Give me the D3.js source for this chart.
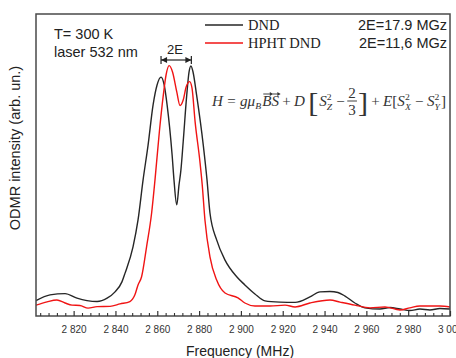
<!DOCTYPE html>
<html>
<head>
<meta charset="utf-8">
<script src="https://cdn.jsdelivr.net/npm/d3@7"></script>
<style>
  html, body { margin: 0; padding: 0; background: #fff; }
  svg { display: block; }
</style>
</head>
<body>
<svg id="chart" width="456" height="358"></svg>
<script>
// ---- Data ----
const dndFreq = [2802.0, 2808.7, 2815.9, 2821.6, 2826.4, 2831.2, 2836.0, 2839.8, 2843.1, 2844.6, 2848.4, 2850.8, 2853.2, 2855.6, 2858.0, 2859.9, 2861.8, 2863.3, 2864.7, 2867.1, 2868.0, 2869.3, 2870.4, 2871.3, 2872.4, 2874.1, 2875.2, 2876.1, 2877.1, 2878.8, 2882.0, 2883.8, 2885.2, 2888.4, 2892.4, 2898.1, 2901.9, 2906.7, 2911.5, 2918.7, 2925.9, 2933.0, 2937.8, 2942.6, 2946.4, 2949.8, 2954.5, 2959.3, 2966.5, 2971.3, 2976.1, 2980.8, 2985.6, 2990.4, 2995.2, 3000.0];
const dndIntensity = [5.1, 7.0, 7.4, 5.9, 5.1, 4.8, 5.9, 8.0, 11.3, 14.2, 22.9, 31.8, 45.0, 56.6, 69.9, 76.5, 79.1, 76.5, 69.9, 53.3, 45.0, 36.8, 43.4, 48.3, 57.7, 73.2, 80.8, 82.8, 80.8, 73.2, 56.6, 45.0, 34.1, 25.2, 18.5, 12.9, 10.3, 7.3, 5.0, 4.6, 4.5, 6.3, 8.0, 8.1, 7.8, 6.6, 4.3, 2.7, 2.3, 2.8, 2.3, 1.8, 2.3, 2.0, 2.5, 2.3];

const hphtFreq = [2802.0, 2807.3, 2812.0, 2815.9, 2819.2, 2823.0, 2826.9, 2831.2, 2837.4, 2842.2, 2846.9, 2849.3, 2850.8, 2852.5, 2854.9, 2857.3, 2858.9, 2861.0, 2862.9, 2864.2, 2865.7, 2867.3, 2869.3, 2870.9, 2872.4, 2873.8, 2875.5, 2876.6, 2878.1, 2880.4, 2881.5, 2882.8, 2885.2, 2888.4, 2892.4, 2898.6, 2901.9, 2906.7, 2913.9, 2921.1, 2925.9, 2933.0, 2942.6, 2947.4, 2954.5, 2961.7, 2968.9, 2976.1, 2980.8, 2985.6, 2995.2, 3000.0];
const hphtIntensity = [3.6, 4.7, 5.3, 4.3, 3.6, 3.5, 2.6, 3.1, 3.2, 4.0, 4.8, 7.0, 10.3, 13.0, 23.0, 34.1, 45.0, 61.0, 73.2, 79.8, 82.9, 80.8, 74.3, 69.7, 71.5, 75.8, 77.6, 75.5, 64.3, 51.1, 43.4, 31.8, 19.6, 11.9, 7.6, 6.0, 4.3, 3.3, 3.3, 3.6, 3.0, 4.3, 5.3, 4.6, 3.6, 2.7, 3.0, 2.0, 2.7, 3.3, 3.3, 3.0];

const seriesNames = ["DND", "HPHT DND"];
const seriesColors = ["#262626", "#f01414"];
const splittings = ["2E=17.9 MGz", "2E=11,6 MGz"];
const majorTicks = [2820, 2840, 2860, 2880, 2900, 2920, 2940, 2960, 2980, 3000];
const tickLabels = ["2 820", "2 840", "2 860", "2 880", "2 900", "2 920", "2 940", "2 960", "2 980", "3 000"];
const minorTicks = d3.range(2804, 3000, 4).filter(v => (v % 20) !== 0);
const xDomain = [2802, 3000];
const yDomain = [0, 100];

// ---- Layout ----
const svg = d3.select("#chart");
const L = 36, R = 450, T = 14, B = 316;

const x = d3.scaleLinear().domain(xDomain).range([L, R]);
const y = d3.scaleLinear().domain(yDomain).range([B, T]);

const sans = "'Liberation Sans', Arial, sans-serif";
const serif = "'Liberation Serif', 'Times New Roman', serif";

svg.append("defs").append("clipPath").attr("id", "clip")
  .append("rect").attr("x", L).attr("y", T).attr("width", R - L).attr("height", B - T);

const line = d3.line()
  .x(d => x(d[0]))
  .y(d => y(d[1]))
  .curve(d3.curveMonotoneX);

const dnd = dndFreq.map((f, i) => [f, dndIntensity[i]]);
const hpht = hphtFreq.map((f, i) => [f, hphtIntensity[i]]);

const plot = svg.append("g").attr("clip-path", "url(#clip)");
plot.append("path").datum(dnd).attr("d", line)
  .attr("fill", "none").attr("stroke", seriesColors[0]).attr("stroke-width", 1.4);
plot.append("path").datum(hpht).attr("d", line)
  .attr("fill", "none").attr("stroke", seriesColors[1]).attr("stroke-width", 1.4);

// ---- Frame ----
svg.append("rect").attr("x", L).attr("y", T).attr("width", R - L).attr("height", B - T)
  .attr("fill", "none").attr("stroke", "#4a4a4a").attr("stroke-width", 1.5);

// ---- X axis (ticks inside) ----
const xAxisMajor = d3.axisBottom(x).tickValues(majorTicks)
  .tickSizeInner(-5).tickSizeOuter(0)
  .tickFormat((d, i) => tickLabels[i]);
const gx = svg.append("g").attr("transform", `translate(0,${B})`).call(xAxisMajor);
gx.select(".domain").remove();
gx.selectAll(".tick line").attr("stroke", "#333").attr("stroke-width", 1.2);
gx.selectAll(".tick text").attr("y", 10).attr("dy", "0.71em")
  .attr("font-family", sans).attr("font-size", 10).attr("fill", "#333");

const xAxisMinor = d3.axisBottom(x).tickValues(minorTicks)
  .tickSizeInner(-3).tickSizeOuter(0).tickFormat("");
const gxm = svg.append("g").attr("transform", `translate(0,${B})`).call(xAxisMinor);
gxm.select(".domain").remove();
gxm.selectAll(".tick line").attr("stroke", "#333").attr("stroke-width", 1.1);

// ---- Axis titles ----
svg.append("text").attr("x", 240).attr("y", 356).attr("text-anchor", "middle")
  .attr("font-family", sans).attr("font-size", 14).attr("fill", "#222")
  .text("Frequency (MHz)");
svg.append("text").attr("transform", "translate(20,148) rotate(-90)")
  .attr("text-anchor", "middle")
  .attr("font-family", sans).attr("font-size", 14.5).attr("fill", "#222")
  .text("ODMR intensity (arb. un.)");

// ---- Annotations ----
svg.append("text").attr("x", 54).attr("y", 39).attr("font-family", sans)
  .attr("font-size", 14.5).attr("fill", "#222").text("T= 300 K");
svg.append("text").attr("x", 54).attr("y", 57).attr("font-family", sans)
  .attr("font-size", 14.5).attr("fill", "#222").text("laser 532 nm");

// 2E marker
svg.append("text").attr("x", 175).attr("y", 54).attr("text-anchor", "middle")
  .attr("font-family", sans).attr("font-size", 13).attr("fill", "#222").text("2E");
const ax1 = x(2861.8), ax2 = x(2876.3), ay = 60;
svg.append("line").attr("x1", ax1).attr("x2", ax2).attr("y1", ay).attr("y2", ay)
  .attr("stroke", "#222").attr("stroke-width", 1.2);
svg.append("line").attr("x1", ax1).attr("x2", ax1).attr("y1", ay - 4).attr("y2", ay + 4)
  .attr("stroke", "#222").attr("stroke-width", 1.2);
svg.append("line").attr("x1", ax2).attr("x2", ax2).attr("y1", ay - 4).attr("y2", ay + 4)
  .attr("stroke", "#222").attr("stroke-width", 1.2);
svg.append("path").attr("d", `M${ax1},${ay} l6,-3 l0,6 z`).attr("fill", "#222");
svg.append("path").attr("d", `M${ax2},${ay} l-6,-3 l0,6 z`).attr("fill", "#222");

// ---- Legend ----
seriesNames.forEach((name, i) => {
  const ly = 25 + i * 18;
  svg.append("line").attr("x1", 205).attr("x2", 243).attr("y1", ly).attr("y2", ly)
    .attr("stroke", seriesColors[i]).attr("stroke-width", 1.5);
  svg.append("text").attr("x", 248).attr("y", ly + 5).attr("font-family", serif)
    .attr("font-size", 14.5).attr("fill", "#222").text(name);
  svg.append("text").attr("x", 447).attr("y", ly + 5).attr("text-anchor", "end")
    .attr("font-family", sans).attr("font-size", 14.5).attr("fill", "#222").text(splittings[i]);
});

// ---- Hamiltonian formula ----
const fg = svg.append("g");
const base = 106;
let cx = 0;
const fs = 14;
const SP = "\u00A0";
function put(txt, opts = {}) {
  const t = fg.append("text").attr("x", cx).attr("y", base + (opts.dy || 0))
    .attr("font-family", serif).attr("font-size", opts.size || fs)
    .attr("font-style", opts.italic ? "italic" : "normal")
    .style("white-space", "pre")
    .attr("fill", "#333").text(txt);
  const w = t.node().getComputedTextLength();
  const x0 = cx;
  if (!opts.noAdvance) cx += w;
  return { t, w, x0 };
}
function gap(w) { cx += w; }
function vecArrow(x0, w) {
  const ya = base - 12;
  fg.append("line").attr("x1", x0 + 1).attr("x2", x0 + w).attr("y1", ya).attr("y2", ya)
    .attr("stroke", "#333").attr("stroke-width", 0.9);
  fg.append("path").attr("d", `M${x0 + w + 1.5},${ya} l-3,-2 l0,4 z`).attr("fill", "#333");
}
function supsub(sup, sub) {
  const x0 = cx;
  const a = put(sup, { size: 9, dy: -6, noAdvance: true });
  const b = put(sub, { size: 9, dy: 4, italic: true, noAdvance: true });
  cx = x0 + Math.max(a.w, b.w) + 1;
}
put("H", { italic: true }); gap(4); put("="); gap(4); put("gμ", { italic: true });
put("B", { size: 9, dy: 3, italic: true });
gap(1);
let p = put("B", { italic: true }); vecArrow(p.x0, p.w);
p = put("S", { italic: true }); vecArrow(p.x0, p.w);
gap(3); put("+"); gap(3); put("D", { italic: true }); gap(3);
put("[", { size: 28, dy: 6 });
gap(1);
put("S", { italic: true }); supsub("2", "Z");
gap(3); put("−"); gap(3);
{
  const x0 = cx;
  const n = put("2", { dy: -8, noAdvance: true });
  put("3", { dy: 9, noAdvance: true });
  fg.append("line").attr("x1", x0 - 1).attr("x2", x0 + n.w + 1).attr("y1", base - 5).attr("y2", base - 5)
    .attr("stroke", "#333").attr("stroke-width", 0.9);
  cx = x0 + n.w + 2;
}
put("]", { size: 28, dy: 6 });
gap(3); put("+"); gap(3); put("E", { italic: true }); put("[");
put("S", { italic: true }); supsub("2", "X");
gap(3); put("−"); gap(3);
put("S", { italic: true }); supsub("2", "Y");
put("]");
const fw = cx;
const targetX0 = 212, targetX1 = 446;
const sc = (targetX1 - targetX0) / fw;
fg.attr("transform", `translate(${targetX0},0) scale(${sc},1)`);
</script>
</body>
</html>
